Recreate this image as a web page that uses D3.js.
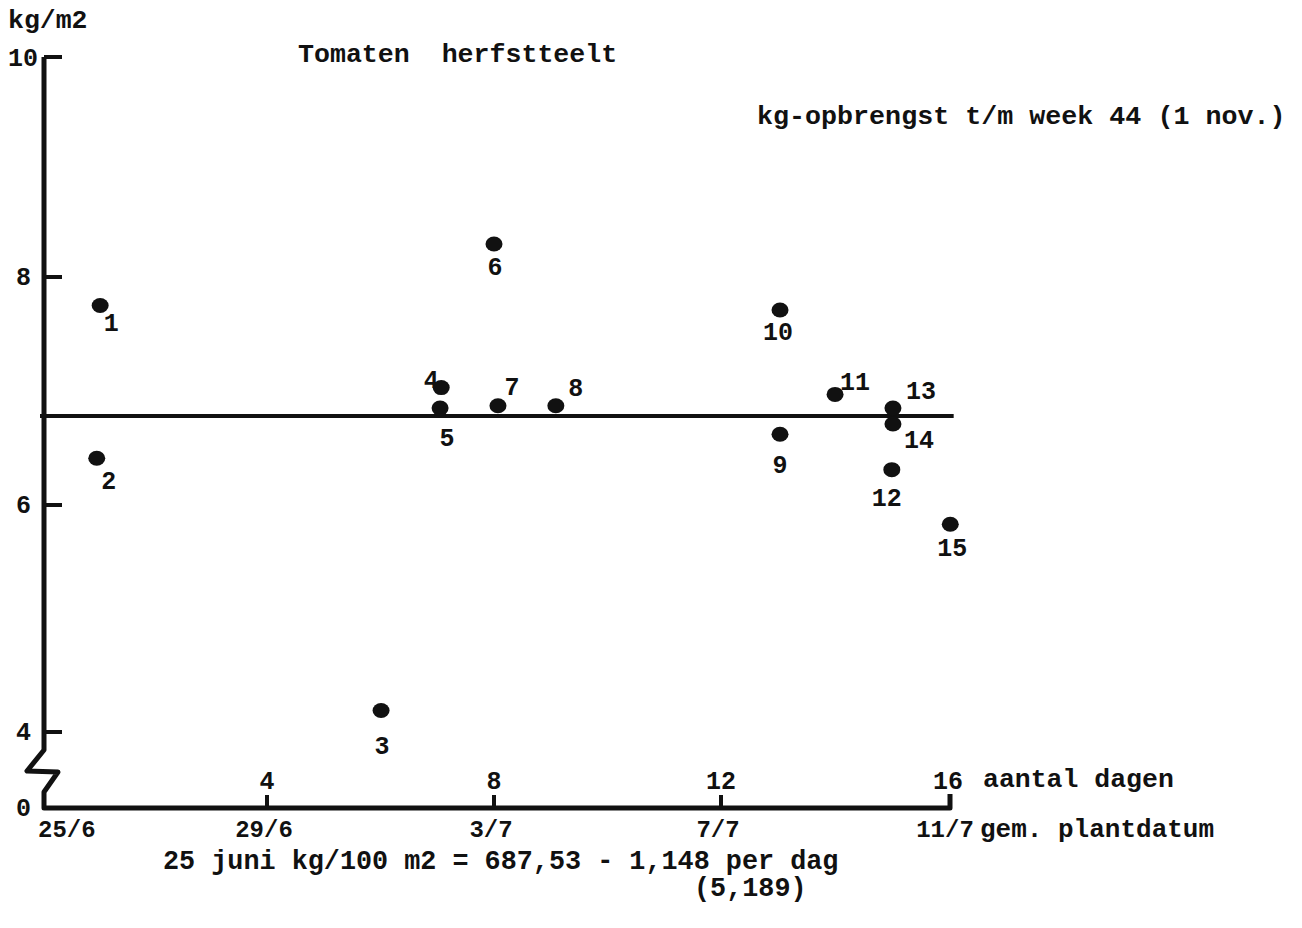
<!DOCTYPE html>
<html><head><meta charset="utf-8">
<script src="https://cdn.jsdelivr.net/npm/d3@7"></script>
<style>html,body{margin:0;padding:0;background:#fff;}svg{display:block;}text{font-family:"Liberation Mono","DejaVu Sans Mono",monospace;font-weight:bold;fill:#111;}</style>
</head><body>
<script>
// ---- data ----
const pointIds   = [1,2,3,4,5,6,7,8,9,10,11,12,13,14,15];
const pointDays  = [1.06,1.0,6.01,7.07,7.05,8.0,8.07,9.09,13.04,13.04,14.01,15.01,15.03,15.03,16.04];
const pointKg    = [7.75,6.41,4.19,7.03,6.85,8.30,6.87,6.87,6.62,7.71,6.97,6.31,6.85,6.71,5.83];
const meanLineDays = [0, 16.1];
const meanLineKg   = [6.78, 6.78];
const yTicks     = [0,4,6,8,10];
const dayTicks   = [4,8,12,16];
const dateTicks  = [0,4,8,12,16];
const dateLabels = ["25/6","29/6","3/7","7/7","11/7"];
// label placement (dx, dy in px from point)
const labelOffsets = [[11,17],[12,23],[1,36],[-10,-8],[7,30],[1,23],[14,-19],[20,-18],[0,31],[-2,22],[20,-12],[-5,28],[28,-17],[26,16],[2,24]];

const W=1302,H=928;
const svg=d3.select("body").append("svg").attr("width",W).attr("height",H);
const x=d3.scaleLinear().domain([0,16]).range([40,948]);
// broken axis: piecewise scale
const y=d3.scaleLinear().domain([0,4,6,8,10]).range([808,732,505,277,57]);
const ax=44, stroke="#111";

// y axis with break
const yPath=d3.path();
yPath.moveTo(ax,y(10)); yPath.lineTo(ax,750); yPath.lineTo(27,771); yPath.lineTo(58,772);
yPath.lineTo(ax,792); yPath.lineTo(ax,y(0)); yPath.lineTo(x(16)+2,y(0)); yPath.lineTo(x(16)+2,y(0)-14);
svg.append("path").attr("d",yPath.toString()).attr("fill","none").attr("stroke",stroke).attr("stroke-width",5).attr("stroke-linejoin","round");

// y ticks
yTicks.filter(d=>d>0).forEach(d=>{
  svg.append("line").attr("x1",ax).attr("x2",62).attr("y1",y(d)).attr("y2",y(d)).attr("stroke",stroke).attr("stroke-width",4);
});
svg.selectAll(".yl").data(yTicks).enter().append("text")
  .attr("x",d=>d===10?38:31).attr("y",d=>y(d)+(d===10?9:8)).attr("text-anchor","end")
  .attr("font-size",25).text(d=>d);
svg.append("text").attr("x",8).attr("y",28).attr("font-size",26.5).text("kg/m2");

// x ticks (days)
dayTicks.filter(d=>d<16).forEach(d=>{
  svg.append("line").attr("x1",x(d)).attr("x2",x(d)).attr("y1",y(0)).attr("y2",y(0)-13).attr("stroke",stroke).attr("stroke-width",4);
});
svg.selectAll(".dl").data(dayTicks).enter().append("text")
  .attr("x",d=>x(d)).attr("y",789).attr("text-anchor","middle").attr("font-size",25).text(d=>d);
svg.selectAll(".dt").data(dateTicks).enter().append("text")
  .attr("x",(d,i)=>i===0?x(d)-2:x(d)-3).attr("y",837).attr("text-anchor",(d,i)=>i===0?"start":"middle")
  .attr("font-size",24).text((d,i)=>dateLabels[i]);
svg.append("text").attr("x",983).attr("y",787).attr("font-size",26.5).text("aantal dagen");
svg.append("text").attr("x",980).attr("y",837).attr("font-size",26).text("gem. plantdatum");

// titles
svg.append("text").attr("x",298).attr("y",62).attr("font-size",26.6).text("Tomaten\u00a0\u00a0herfstteelt");
svg.append("text").attr("x",757).attr("y",124).attr("font-size",26.7).text("kg-opbrengst t/m week 44 (1 nov.)");
svg.append("text").attr("x",163).attr("y",869).attr("font-size",26.8).text("25 juni kg/100 m2 = 687,53 - 1,148 per dag");
svg.append("text").attr("x",694).attr("y",896).attr("font-size",26.8).text("(5,189)");

// mean line
svg.append("path").datum(meanLineDays.map((d,i)=>[d,meanLineKg[i]]))
  .attr("d",d3.line().x(d=>x(d[0])).y(d=>y(d[1]))).attr("stroke",stroke).attr("stroke-width",4).attr("fill","none");

// points
const pts=pointIds.map((id,i)=>({id,day:pointDays[i],kg:pointKg[i],off:labelOffsets[i]}));
svg.selectAll(".pt").data(pts).enter().append("ellipse")
  .attr("cx",d=>x(d.day)).attr("cy",d=>y(d.kg)).attr("rx",8.5).attr("ry",7.5).attr("fill","#111");
svg.selectAll(".pl").data(pts).enter().append("text")
  .attr("x",d=>x(d.day)+d.off[0]).attr("y",d=>y(d.kg)+d.off[1]+8).attr("text-anchor","middle")
  .attr("font-size",25).text(d=>d.id);
</script>
</body></html>
